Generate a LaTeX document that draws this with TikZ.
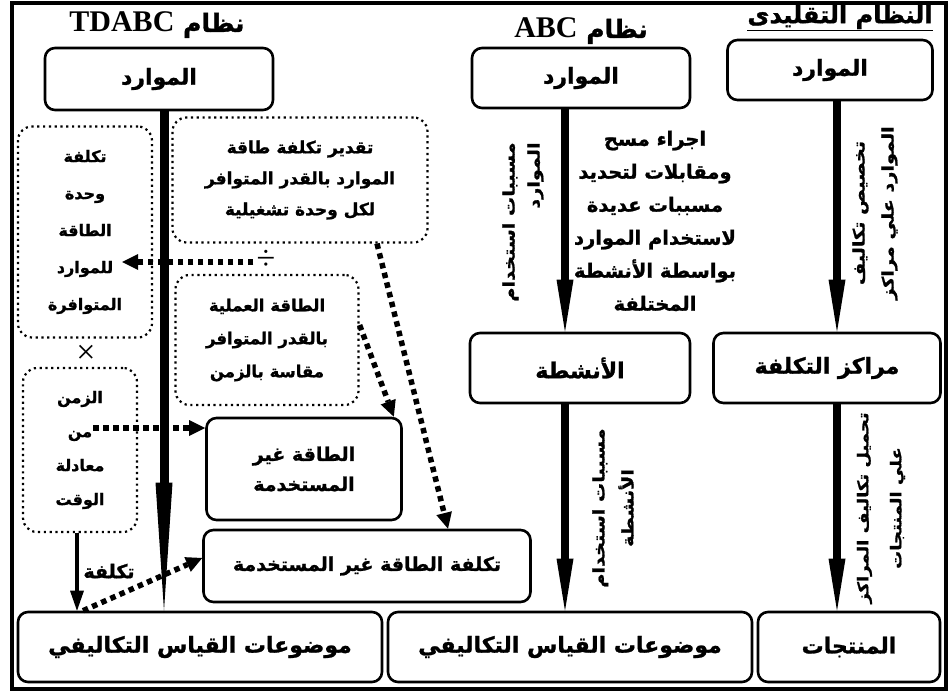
\documentclass[tikz,border=0pt]{standalone}
\usepackage{fontspec}
\usepackage{tikz}
\usetikzlibrary{arrows.meta}
\newfontfamily\arabicfont[Script=Arabic,BoldFeatures={FakeBold=1.2}]{DejaVu Sans}
\newfontfamily\sidefont[Script=Arabic,FakeStretch=1.2,BoldFeatures={FakeBold=1.2}]{DejaVu Sans}
\newfontfamily\latinfont{Liberation Serif}
\TeXXeTstate=1
\newcommand{\ar}[1]{\beginR#1\endR}

\begin{document}
\begin{tikzpicture}[x=1pt,y=-1pt]
	\tikzstyle{every node}+=[inner sep=0pt]
	\tikzstyle{box}=[draw,line width=2.6pt,rounded corners=10pt,align=center,font=\arabicfont\bfseries\fontsize{22}{30}\selectfont]
	\tikzstyle{dotbox}=[draw,line width=2.2pt,dash pattern=on 2.2pt off 3.6pt,rounded corners=14pt,align=center,font=\arabicfont\bfseries\fontsize{16}{32}\selectfont]
	\tikzstyle{txt}=[align=center,font=\arabicfont\bfseries\fontsize{19.5}{33}\selectfont]
	\tikzstyle{sidetxt}=[rotate=90,align=center,font=\sidefont\bfseries\fontsize{16}{29}\selectfont]
	\tikzstyle{head}=[font=\arabicfont\bfseries\fontsize{25}{28}\selectfont]
	\tikzstyle{opsym}=[font=\latinfont\fontsize{34}{34}\selectfont]
	\tikzstyle{flow}=[line width=8pt,-{Triangle[length=52pt,width=17pt,line width=0pt]}]
	\tikzstyle{dotflow}=[line width=5.5pt,dash pattern=on 5.5pt off 4.5pt,-{Triangle[length=16pt,width=16pt,line width=0pt]}]
	\useasboundingbox (0,0) rectangle (950,695);
	\draw [line width=4pt] (12,3) rectangle (946,689);
	\node [head] (tdabchead) at (157,25) {{\latinfont\fontsize{30}{32}\selectfont TDABC} \ar{نظام}};
	\node [head] (abchead) at (581,31) {{\latinfont\fontsize{30}{32}\selectfont ABC} \ar{نظام}};
	\node [head,font=\arabicfont\bfseries\fontsize{24}{28}\selectfont] (tradhead) at (840,18) {\underline{\ar{النظام التقليدى}}};
	\node [box,minimum width=228pt,minimum height=62pt] (resT) at (159,79) {\ar{الموارد}};
	\node [box,minimum width=218pt,minimum height=60pt] (resA) at (581,78) {\ar{الموارد}};
	\node [box,minimum width=205pt,minimum height=60pt] (resP) at (830,70) {\ar{الموارد}};
	\node [dotbox,minimum width=255pt,minimum height=125pt,font=\arabicfont\bfseries\fontsize{17}{31}\selectfont] (estim) at (300,180) {\ar{تقدير تكلفة طاقة}\\\ar{الموارد بالقدر المتوافر}\\\ar{لكل وحدة تشغيلية}};
	\node [dotbox,minimum width=134pt,minimum height=211pt,font=\arabicfont\bfseries\fontsize{16}{37}\selectfont] (unitcost) at (85,232) {\ar{تكلفة}\\\ar{وحدة}\\\ar{الطاقة}\\\ar{للموارد}\\\ar{المتوافرة}};
	\node [opsym] (divsym) at (266,260) {÷};
	\node [dotbox,minimum width=183pt,minimum height=130pt,font=\arabicfont\bfseries\fontsize{16.5}{33}\selectfont] (practcap) at (267,340) {\ar{الطاقة العملية}\\\ar{بالقدر المتوافر}\\\ar{مقاسة بالزمن}};
	\node [opsym] (timessym) at (86,354) {×};
	\node [dotbox,minimum width=114pt,minimum height=164pt,font=\arabicfont\bfseries\fontsize{16}{34}\selectfont] (timeq) at (80,450) {\ar{الزمن}\\\ar{من}\\\ar{معادلة}\\\ar{الوقت}};
	\node [box,minimum width=195pt,minimum height=102pt,font=\arabicfont\bfseries\fontsize{19}{30}\selectfont] (unused) at (304,469) {\ar{الطاقة غير}\\\ar{المستخدمة}};
	\node [box,minimum width=327pt,minimum height=72pt,font=\arabicfont\bfseries\fontsize{19}{22}\selectfont] (unusedcost) at (367,566) {\ar{تكلفة الطاقة غير المستخدمة}};
	\node [box,minimum width=364pt,minimum height=70pt] (objT) at (200,647) {\ar{موضوعات القياس التكاليفي}};
	\node [txt] (survey) at (655,221) {\ar{اجراء مسح}\\\ar{ومقابلات لتحديد}\\\ar{مسببات عديدة}\\\ar{لاستخدام الموارد}\\\ar{بواسطة الأنشطة}\\\ar{المختلفة}};
	\node [box,minimum width=220pt,minimum height=70pt] (actA) at (580,368) {\ar{الأنشطة}};
	\node [box,minimum width=364pt,minimum height=70pt] (objA) at (570,647) {\ar{موضوعات القياس التكاليفي}};
	\node [box,minimum width=227pt,minimum height=70pt] (ccenter) at (827,368) {\ar{مراكز التكلفة}};
	\node [box,minimum width=182pt,minimum height=70pt] (prod) at (849,647) {\ar{المنتجات}};
	\node [sidetxt,align=right,font=\sidefont\bfseries\fontsize{16}{25}\selectfont] (lblA1) at (523,222) {\ar{مسببات استخدام}\\\ar{الموارد}};
	\node [sidetxt] (lblA2) at (613,508) {\ar{مسببات استخدام}\\\ar{الأنشطة}};
	\node [sidetxt] (lblP1) at (875,213) {\ar{تخصيص تكاليف}\\\ar{الموارد علي مراكز}};
	\node [sidetxt,font=\sidefont\bfseries\fontsize{15}{33}\selectfont] (lblP2) at (881,508) {\ar{تحميل تكاليف المراكز}\\\ar{علي المنتجات}};
	\node [font=\arabicfont\bfseries\fontsize{19}{20}\selectfont] (costlbl) at (109,571) {\ar{تكلفة}};
	\coordinate (divtip) at (122,262);
	\coordinate (timesrc) at (93,428);
	\draw [flow] ([xshift=-16pt]resA.south) -- ([xshift=-16pt]resA.south |- actA.north);
	\draw [flow] ([xshift=-15pt]actA.south) -- ([xshift=-15pt]actA.south |- objA.north);
	\draw [flow] ([xshift=7pt]resP.south) -- ([xshift=7pt]resP.south |- ccenter.north);
	\draw [flow] ([xshift=10pt]ccenter.south) -- ([xshift=10pt]ccenter.south |- prod.north);
	\draw [line width=9pt,-{Triangle[length=128pt,width=17pt,line width=0pt]}] ([xshift=5pt]resT.south) -- ([xshift=5pt]resT.south |- objT.north);
	\draw [dotflow] ([xshift=-3pt,yshift=-2pt]divsym.west) -- (divtip);
	\draw [dotflow] (timesrc) -- (timesrc -| unused.west);
	\draw [dotflow] ([yshift=15pt]practcap.east) -- ([xshift=-9pt]unused.north east);
	\draw [dotflow] ([xshift=77pt]estim.south) -- ([xshift=81pt]unusedcost.north);
	\draw [dotflow] ([xshift=-117pt]objT.north) -- ([yshift=8pt]unusedcost.west);
	\draw [line width=4pt,-{Triangle[length=20pt,width=14pt,line width=0pt]}] ([xshift=-3pt]timeq.south) -- ([xshift=-3pt]timeq.south |- objT.north);
\end{tikzpicture}
\end{document}
